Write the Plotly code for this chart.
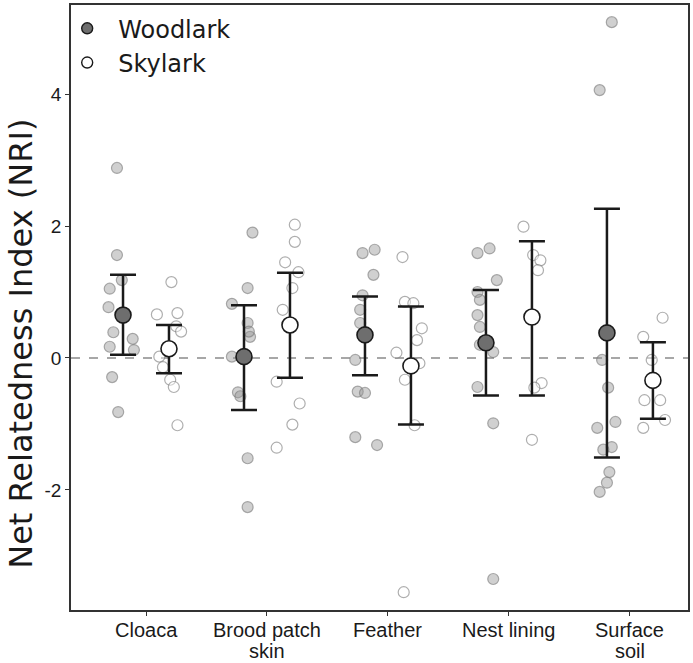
import plotly.graph_objects as go

# Sample types along the x axis
categories = ["Cloaca", "Brood patch<br>skin", "Feather", "Nest lining", "Surface<br>soil"]

# Model means with lower / upper confidence limits (NRI)
woodlark_mean = [0.65, 0.02, 0.35, 0.23, 0.38]
woodlark_low = [0.05, -0.79, -0.26, -0.57, -1.51]
woodlark_high = [1.26, 0.80, 0.93, 1.03, 2.26]

skylark_mean = [0.14, 0.50, -0.12, 0.62, -0.34]
skylark_low = [-0.23, -0.30, -1.01, -0.57, -0.92]
skylark_high = [0.50, 1.29, 0.78, 1.77, 0.24]

# Individual sample NRI values per sample type
woodlark_points = [
    [2.88, 1.56, 1.18, 1.05, 0.77, 0.39, 0.17, 0.29, 0.12, -0.29, -0.82],
    [1.90, 1.06, 0.82, 0.53, 0.32, 0.40, 0.02, -0.52, -0.58, -1.52, -2.26],
    [1.59, 1.64, 1.26, 0.95, 0.73, 0.53, -0.03, -0.51, -0.53, -1.20, -1.32],
    [1.59, 1.66, 1.18, 1.00, 0.88, 0.65, 0.47, 0.20, 0.09, -0.44, -0.99, -3.35],
    [5.09, 4.06, -0.03, -0.45, -0.97, -1.06, -1.35, -1.39, -1.73, -1.89, -2.03],
]
skylark_points = [
    [1.15, 0.66, 0.68, 0.48, 0.40, 0.02, -0.14, -0.33, -0.44, -1.02],
    [2.02, 1.76, 1.45, 1.30, 1.06, 0.73, -0.36, -0.69, -1.01, -1.36],
    [1.53, 0.85, 0.83, 0.45, 0.27, 0.08, -0.08, -0.33, -1.02, -3.55],
    [1.99, 1.56, 1.48, 1.33, -0.38, -0.45, -1.24],
    [0.61, 0.32, -0.03, -0.64, -0.64, -0.94, -1.06],
]

# Horizontal jitter of each sample around its group position (category units)
woodlark_jitter = [
    [-0.05, -0.05, -0.01, -0.11, -0.12, -0.08, -0.11, 0.08, 0.09, -0.09, -0.04],
    [0.07, 0.03, -0.10, 0.03, 0.05, 0.04, -0.10, -0.05, -0.03, 0.03, 0.03],
    [-0.02, 0.08, 0.07, -0.02, -0.04, -0.04, -0.08, -0.06, 0.00, -0.08, 0.10],
    [-0.07, 0.03, 0.09, -0.07, -0.05, -0.07, -0.05, -0.05, 0.06, -0.07, 0.06, 0.06],
    [0.04, -0.06, -0.04, 0.01, 0.07, -0.08, 0.04, -0.03, 0.02, 0.00, -0.06],
]
skylark_jitter = [
    [0.02, -0.10, 0.07, 0.06, 0.10, -0.08, -0.05, 0.01, 0.04, 0.07],
    [0.04, 0.04, -0.04, 0.07, 0.02, -0.06, -0.11, 0.08, 0.02, -0.11],
    [-0.07, -0.05, 0.02, 0.09, 0.05, -0.12, 0.07, -0.05, 0.03, -0.06],
    [-0.07, 0.01, 0.07, 0.05, 0.08, 0.02, 0.00],
    [0.08, -0.08, -0.01, -0.07, 0.06, 0.10, -0.08],
]

DODGE = 0.19
positions = list(range(1, len(categories) + 1))

fig = go.Figure()

# Zero reference line
fig.add_shape(type="line", xref="paper", x0=0, x1=1, yref="y", y0=0, y1=0,
              line=dict(color="#8a8a8a", width=1.5, dash="dash"), layer="below")


def raw_trace(points, jitter, shift, fill):
    xs, ys = [], []
    for pos, vals, jit in zip(positions, points, jitter):
        for v, j in zip(vals, jit):
            xs.append(pos + shift + j)
            ys.append(v)
    return go.Scatter(
        x=xs, y=ys, mode="markers", showlegend=False, hoverinfo="skip",
        marker=dict(size=11, color=fill,
                    line=dict(color="rgba(120,120,120,0.6)", width=1.2)),
    )


fig.add_trace(raw_trace(woodlark_points, woodlark_jitter, -DODGE, "rgba(150,150,150,0.45)"))
fig.add_trace(raw_trace(skylark_points, skylark_jitter, DODGE, "rgba(255,255,255,0.4)"))


def mean_trace(mean, low, high, shift, fill):
    return go.Scatter(
        x=[p + shift for p in positions], y=mean, mode="markers", showlegend=False,
        error_y=dict(type="data", symmetric=False,
                     array=[h - m for h, m in zip(high, mean)],
                     arrayminus=[m - l for m, l in zip(mean, low)],
                     color="#1a1a1a", thickness=2.5, width=13),
        marker=dict(size=16, color=fill, line=dict(color="#1a1a1a", width=1.6)),
    )


fig.add_trace(mean_trace(woodlark_mean, woodlark_low, woodlark_high, -DODGE, "#6e6e6e"))
fig.add_trace(mean_trace(skylark_mean, skylark_low, skylark_high, DODGE, "#ffffff"))

# Legend entries
fig.add_trace(go.Scatter(x=[None], y=[None], mode="markers", name="Woodlark",
                         legendgroup="w",
                         marker=dict(size=11, color="#6e6e6e", line=dict(color="#1a1a1a", width=1.4))))
fig.add_trace(go.Scatter(x=[None], y=[None], mode="markers", name="Skylark",
                         legendgroup="s",
                         marker=dict(size=11, color="#ffffff", line=dict(color="#1a1a1a", width=1.4))))

label_font = dict(family="Liberation Sans, Arial, sans-serif", size=20, color="#1a1a1a")

# Category labels under the ticks, with tight line spacing for two-line names
annotations = []
for pos, label in zip(positions, categories):
    for i, line in enumerate(label.split("<br>")):
        annotations.append(dict(
            text=line, xref="x", x=pos, xanchor="center",
            yref="paper", y=0, yanchor="middle", yshift=-20 - 21 * i,
            showarrow=False, font=label_font,
        ))

annotations.append(dict(
    text="Net Relatedness Index (NRI)", textangle=-90,
    xref="paper", x=0, xanchor="center", xshift=-50,
    yref="paper", y=0.44, yanchor="middle", showarrow=False,
    font=dict(family="DejaVu Sans, sans-serif", size=32, color="#1a1a1a"),
))

fig.update_layout(
    width=693, height=663,
    margin=dict(l=71, r=5, t=5, b=53),
    paper_bgcolor="white", plot_bgcolor="white",
    font=dict(family="Liberation Sans, Arial, sans-serif", color="#1a1a1a", size=17),
    showlegend=True,
    legend=dict(x=-0.024, y=0.998, xanchor="left", yanchor="top",
                bgcolor="rgba(0,0,0,0)",
                font=dict(family="DejaVu Sans, sans-serif", size=24, color="#1a1a1a"),
                tracegroupgap=0, itemwidth=52),
    xaxis=dict(
        range=[0.38, 5.48], tickmode="array", tickvals=positions, showticklabels=False,
        showgrid=False, zeroline=False, showline=True, linecolor="#333333", linewidth=1.5,
        mirror=True, ticks="outside", ticklen=4, tickcolor="#333333", automargin=False,
    ),
    yaxis=dict(
        range=[-3.82, 5.35], tickvals=[-2, 0, 2, 4], ticktext=["-2", "0", "2", "4"],
        showgrid=False, zeroline=False, showline=True, linecolor="#333333", linewidth=1.5,
        mirror=True, ticks="outside", ticklen=4, tickcolor="#333333",
        tickfont=dict(family="Liberation Sans, Arial, sans-serif", size=19, color="#1a1a1a"),
        automargin=False,
    ),
    annotations=annotations,
)

fig.write_html("out.html")
